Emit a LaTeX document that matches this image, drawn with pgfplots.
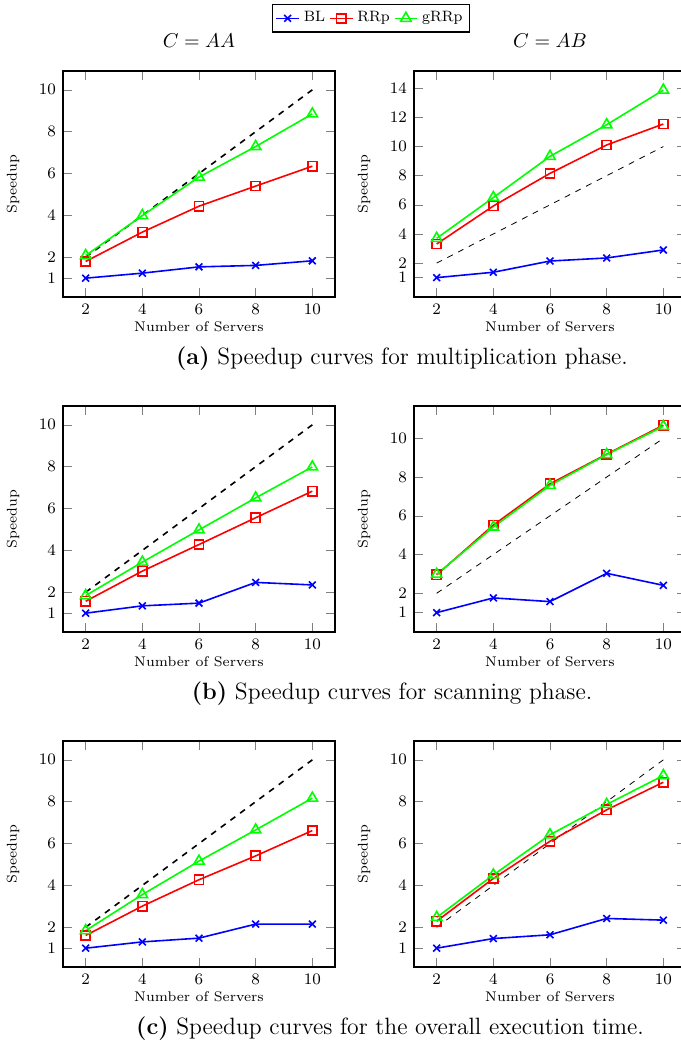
\documentclass[border=0pt]{standalone}
\usepackage{pgfplots}
\pgfplotsset{compat=1.18}
\pgfplotsset{
  every axis/.append style={font=\fontsize{7}{8.4}\selectfont},
  sp/.style={
    scale only axis, width=136pt, height=113pt,
    xmin=1.2, xmax=10.8, xtick={2,4,6,8,10},
    xlabel={Number of Servers}, ylabel={Speedup},
    xlabel style={at={(axis description cs:0.5,-0.133)}, anchor=center},
    ylabel style={at={(axis description cs:-0.184,0.5)}, anchor=center},
    tick label style={font=\fontsize{8}{9.6}\selectfont},
    title style={font=\fontsize{10}{12}\selectfont, yshift=2pt},
    axis line style={semithick},
  },
  bl/.style={blue, thick, mark=x, mark size=2.4pt},
  rr/.style={red, thick, mark=square, mark size=2.3pt},
  gr/.style={green, thick, mark=triangle, mark size=3pt},
}
\begin{document}
\begin{tikzpicture}
\useasboundingbox (0,0) rectangle (340pt,-521.5pt);

% ---- row (a) ----
\begin{axis}[sp, at={(31.5pt,-35.5pt)}, anchor=north west,
  title={$C = AA$}, ymin=0.1, ymax=10.9, ytick={1,2,4,6,8,10},
  legend columns=3,
  legend style={at={(1.132,1.296)}, anchor=north, draw=black, semithick,
    font=\fontsize{7.5}{9}\selectfont, inner sep=1.5pt},
  legend image code/.code={\draw[mark repeat=2,mark phase=2] plot coordinates {(0cm,0cm)(0.2cm,0cm)(0.4cm,0cm)};}]
\addplot[black, dashed, thick, forget plot] coordinates {(2,2)(10,10)};
\addplot[bl] coordinates {(2,1.00)(4,1.24)(6,1.54)(8,1.61)(10,1.83)};
\addplot[rr] coordinates {(2,1.80)(4,3.20)(6,4.44)(8,5.40)(10,6.35)};
\addplot[gr] coordinates {(2,2.08)(4,3.99)(6,5.83)(8,7.29)(10,8.85)};
\legend{BL,RRp,gRRp}
\end{axis}

\begin{axis}[sp, at={(207pt,-35.5pt)}, anchor=north west,
  title={$C = AB$}, ymin=-0.33, ymax=15.19, ytick={1,2,4,6,8,10,12,14}]
\addplot[black, dashed] coordinates {(2,2)(10,10)};
\addplot[bl] coordinates {(2,1.00)(4,1.37)(6,2.14)(8,2.35)(10,2.90)};
\addplot[rr] coordinates {(2,3.31)(4,5.92)(6,8.16)(8,10.11)(10,11.55)};
\addplot[gr] coordinates {(2,3.70)(4,6.50)(6,9.33)(8,11.50)(10,13.88)};
\end{axis}

% ---- row (b) ----
\begin{axis}[sp, at={(31.5pt,-203pt)}, anchor=north west,
  ymin=0.1, ymax=10.9, ytick={1,2,4,6,8,10}]
\addplot[black, dashed, thick] coordinates {(2,2)(10,10)};
\addplot[bl] coordinates {(2,1.00)(4,1.35)(6,1.48)(8,2.47)(10,2.35)};
\addplot[rr] coordinates {(2,1.57)(4,3.01)(6,4.28)(8,5.56)(10,6.83)};
\addplot[gr] coordinates {(2,1.84)(4,3.44)(6,4.98)(8,6.51)(10,7.99)};
\end{axis}

\begin{axis}[sp, at={(207pt,-203pt)}, anchor=north west,
  ymin=0.0, ymax=11.67, ytick={1,2,4,6,8,10}]
\addplot[black, dashed] coordinates {(2,2)(10,10)};
\addplot[bl] coordinates {(2,1.00)(4,1.76)(6,1.57)(8,3.03)(10,2.41)};
\addplot[rr] coordinates {(2,2.95)(4,5.52)(6,7.65)(8,9.18)(10,10.68)};
\addplot[gr] coordinates {(2,2.98)(4,5.42)(6,7.57)(8,9.16)(10,10.62)};
\end{axis}

% ---- row (c) ----
\begin{axis}[sp, at={(31.5pt,-370.5pt)}, anchor=north west,
  ymin=0.1, ymax=10.9, ytick={1,2,4,6,8,10}]
\addplot[black, dashed, thick] coordinates {(2,2)(10,10)};
\addplot[bl] coordinates {(2,1.00)(4,1.30)(6,1.48)(8,2.15)(10,2.15)};
\addplot[rr] coordinates {(2,1.61)(4,3.01)(6,4.27)(8,5.41)(10,6.62)};
\addplot[gr] coordinates {(2,1.84)(4,3.56)(6,5.16)(8,6.65)(10,8.17)};
\end{axis}

\begin{axis}[sp, at={(207pt,-370.5pt)}, anchor=north west,
  ymin=0.1, ymax=10.9, ytick={1,2,4,6,8,10}]
\addplot[black, dashed] coordinates {(2,2)(10,10)};
\addplot[bl] coordinates {(2,1.00)(4,1.46)(6,1.64)(8,2.42)(10,2.34)};
\addplot[rr] coordinates {(2,2.29)(4,4.33)(6,6.11)(8,7.61)(10,8.93)};
\addplot[gr] coordinates {(2,2.47)(4,4.50)(6,6.42)(8,7.87)(10,9.25)};
\end{axis}

% ---- sub-captions ----
\node[anchor=base, font=\fontsize{11.8}{14}\selectfont] at (201pt,-182pt)
  {\textbf{(a)} Speedup curves for multiplication phase.};
\node[anchor=base, font=\fontsize{11.8}{14}\selectfont] at (196pt,-349.5pt)
  {\textbf{(b)} Speedup curves for scanning phase.};
\node[anchor=base, font=\fontsize{11.8}{14}\selectfont] at (195pt,-517pt)
  {\textbf{(c)} Speedup curves for the overall execution time.};
\end{tikzpicture}
\end{document}
